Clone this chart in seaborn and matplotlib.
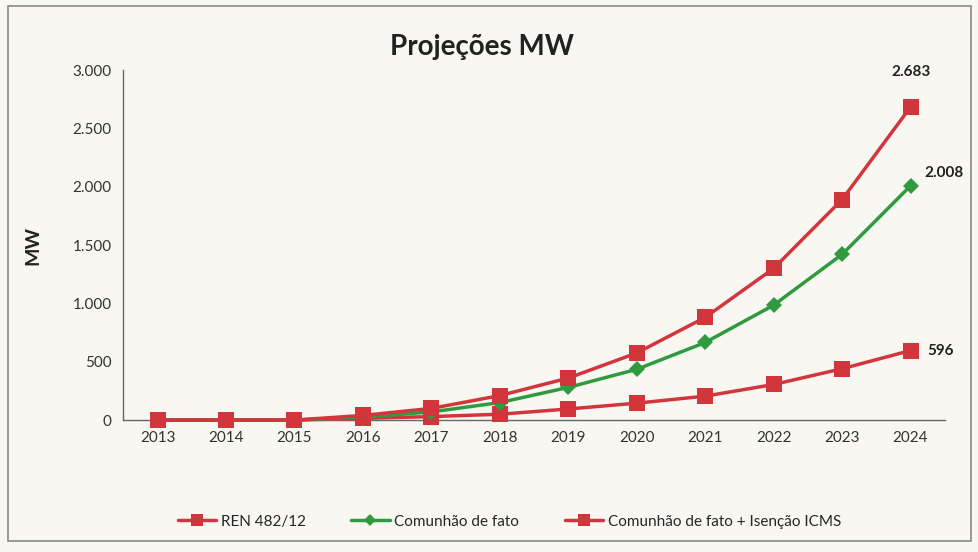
import numpy as np
import pandas as pd
import matplotlib.pyplot as plt
import seaborn as sns
from matplotlib.ticker import FuncFormatter, FixedLocator

years = [2013, 2014, 2015, 2016, 2017, 2018, 2019, 2020, 2021, 2022, 2023, 2024]
ren = [0, 0, 0, 15, 30, 50, 95, 145, 205, 305, 440, 596]
comunhao = [0, 0, 0, 25, 70, 150, 280, 435, 665, 985, 1420, 2008]
comunhao_icms = [0, 0, 0, 40, 100, 210, 360, 575, 880, 1300, 1890, 2683]
series_names = ['REN 482/12', 'Comunhão de fato', 'Comunhão de fato + Isenção ICMS']

red = '#d2363c'
green = '#2f9a3e'
bg = '#f8f7f1'

sns.set_style('white')
plt.rcParams['font.family'] = ['Lato', 'DejaVu Sans']

fig = plt.figure(figsize=(9.79, 5.52), dpi=100, facecolor=bg)
ax = fig.add_axes([0.126, 0.239, 0.839, 0.634])
ax.set_facecolor(bg)

idx = np.arange(len(years))
sns.lineplot(x=idx, y=ren, ax=ax, color=red, lw=2.5, marker='s', markersize=11,
             markeredgewidth=0, label=series_names[0], clip_on=False, zorder=3)
sns.lineplot(x=idx, y=comunhao, ax=ax, color=green, lw=2.5, marker='D', markersize=8,
             markeredgewidth=0, label=series_names[1], clip_on=False, zorder=3)
sns.lineplot(x=idx, y=comunhao_icms, ax=ax, color=red, lw=2.5, marker='s', markersize=11,
             markeredgewidth=0, label=series_names[2], clip_on=False, zorder=3)

ax.set_xlim(-0.5, len(years) - 0.5)
ax.set_ylim(0, 3000)
ax.set_yticks(range(0, 3001, 500))
ax.yaxis.set_major_formatter(FuncFormatter(lambda v, p: f'{int(v):,}'.replace(',', '.')))
ax.set_xticks(idx)
ax.set_xticklabels([str(y) for y in years])
ax.xaxis.set_minor_locator(FixedLocator(np.arange(-0.5, len(years), 1)))
ax.tick_params(axis='x', which='major', length=0, pad=8, labelsize=11)
ax.tick_params(axis='x', which='minor', length=5, width=1, color='#555555', direction='out')
ax.tick_params(axis='y', length=5, width=1, color='#555555', direction='out', labelsize=11)
for lab in ax.get_xticklabels() + ax.get_yticklabels():
    lab.set_color('#333333')

sns.despine(ax=ax)
for s in ['left', 'bottom']:
    ax.spines[s].set_color('#666666')
    ax.spines[s].set_linewidth(1)
    ax.spines[s].set_zorder(2)

ax.set_ylabel('MW', fontsize=14, fontweight='bold', color='#222222', labelpad=22)
ax.set_xlabel('')
fig.text(0.492, 0.915, 'Projeções MW', ha='center', va='center', fontsize=20,
         fontweight='bold', color='#222222')

last = len(years) - 1
fmt = lambda v: f'{v:,}'.replace(',', '.')
ax.annotate(fmt(comunhao_icms[-1]), (last, comunhao_icms[-1]), xytext=(0, 20),
            textcoords='offset points', ha='center', va='bottom', fontsize=11,
            fontweight='bold', color='#222222')
ax.annotate(fmt(comunhao[-1]), (last, comunhao[-1]), xytext=(10, 4),
            textcoords='offset points', ha='left', va='bottom', fontsize=11,
            fontweight='bold', color='#222222')
ax.annotate(fmt(ren[-1]), (last, ren[-1]), xytext=(12, 0),
            textcoords='offset points', ha='left', va='center', fontsize=11,
            fontweight='bold', color='#222222')

ax.legend(loc='center', bbox_to_anchor=(0.47, -0.29), ncol=3, frameon=False,
          fontsize=11, handlelength=2.5, columnspacing=3, handletextpad=0.3,
          markerscale=0.8)

fig.patches.append(plt.Rectangle((0.008, 0.02), 0.984, 0.97, transform=fig.transFigure,
                                 fill=False, edgecolor='#888888', lw=1.2))

plt.savefig('out.png', dpi=100, facecolor=bg)
